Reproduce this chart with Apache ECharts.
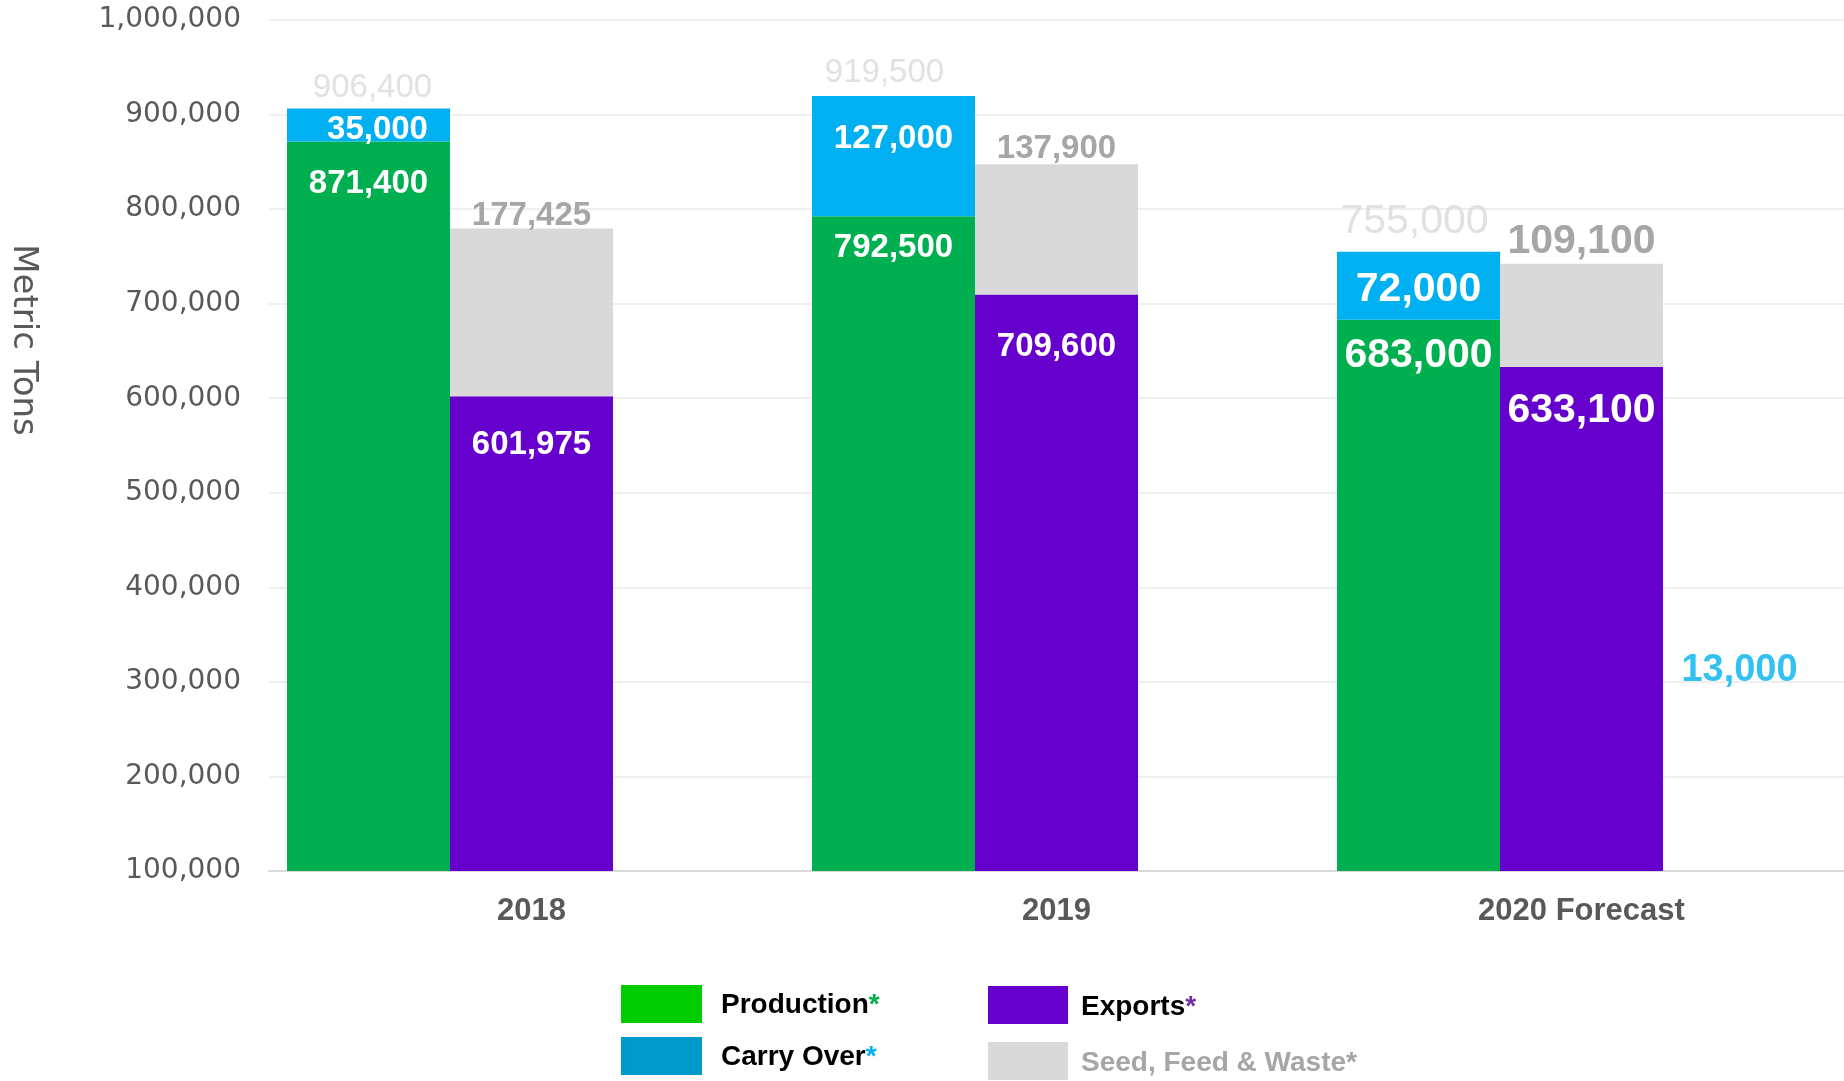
<!DOCTYPE html>
<html lang="en">
  <head>
    <meta charset="UTF-8" />
    <title>Supply and Use (Metric Tons)</title>
    <script src="https://cdn.jsdelivr.net/npm/echarts@6/dist/echarts.min.js"></script>
    <style>
      html, body { margin: 0; padding: 0; background: #fff; }
      #chart { width: 1844px; height: 1081px; }
    </style>
  </head>
  <body>
    <div id="chart"></div>
    <script>
      // values
      const categories = ["2018", "2019", "2020 Forecast"];
      const production = [871400, 792500, 683000];
      const carryOver = [35000, 127000, 72000];
      const exportsData = [601975, 709600, 633100];
      const seedFeedWaste = [177425, 137900, 109100];
      const supplyTotals = [906400, 919500, 755000];
      const carryOut = [null, null, 13000];

      const yMin = 100000;
      const yMax = 1000000;
      const yStep = 100000;

      const COLORS = {
        production: "#00b050",
        carryOver: "#00b0f0",
        exports: "#6600cc",
        sfw: "#d9d9d9",
        sfwText: "#a6a6a6",
        totalText: "#d9d9d9",
        axisText: "#595959",
      };

      const BAR_W = 163;
      const LABEL_SIZE = [33, 33, 41];
      const FONT = "Liberation Sans, Arial, sans-serif";
      const CARRY_OUT_LABEL_Y = 315000;

      const fmt = (v) => Number(v).toLocaleString("en-US");

      // per-bar label tweaks (placement relative to the bar)
      const items = (values, opts) =>
        values.map((v, i) => ({
          value: v,
          label: {
            fontSize: LABEL_SIZE[i],
            position: opts.position[i],
            distance: opts.distance[i],
            offset: opts.offset ? opts.offset[i] : [0, 0],
          },
        }));

      const whiteLabel = {
        show: true,
        color: "#fff",
        fontWeight: "bold",
        fontFamily: FONT,
        textBorderWidth: 0,
        formatter: (p) => fmt(p.value),
      };

      const option = {
        animation: false,
        backgroundColor: "#fff",
        grid: { left: 269, right: 0, top: 20, bottom: 210 },
        xAxis: {
          type: "category",
          data: categories,
          axisLine: { lineStyle: { color: "#d9d9d9", width: 2 } },
          axisTick: { show: false },
          axisLabel: {
            color: COLORS.axisText,
            fontSize: 31,
            fontWeight: "bold",
            fontFamily: FONT,
            margin: 25,
          },
        },
        yAxis: {
          type: "value",
          min: yMin,
          max: yMax,
          interval: yStep,
          axisLine: { show: false },
          axisTick: { show: false },
          splitLine: { lineStyle: { color: "#efefef", width: 2 } },
          axisLabel: {
            color: COLORS.axisText,
            fontSize: 28,
            fontFamily: "DejaVu Sans, sans-serif",
            margin: 28,
            padding: [12, 0, 0, 0],
            formatter: (v) => fmt(v),
          },
        },
        legend: [
          {
            orient: "vertical",
            left: 621,
            top: 985,
            padding: 0,
            itemWidth: 81,
            itemHeight: 38,
            itemGap: 14,
            icon: "rect",
            selectedMode: false,
            data: [
              { name: "Production", itemStyle: { color: "#00cc00" } },
              { name: "Carry Over", itemStyle: { color: "#0099cc" } },
            ],
            formatter: (n) => (n === "Production" ? n + "{sg|*}" : n + "{sb|*}"),
            textStyle: {
              color: "#000",
              fontSize: 28,
              fontWeight: "bold",
              fontFamily: FONT,
              padding: [3, 0, 0, 14],
              rich: {
                sg: { color: "#00b050", fontSize: 28, fontWeight: "bold", fontFamily: FONT },
                sb: { color: "#00b0f0", fontSize: 28, fontWeight: "bold", fontFamily: FONT },
              },
            },
          },
          {
            orient: "vertical",
            left: 988,
            top: 986,
            padding: 0,
            itemWidth: 80,
            itemHeight: 38,
            itemGap: 18,
            icon: "rect",
            selectedMode: false,
            data: [
              { name: "Exports", itemStyle: { color: "#6600cc" } },
              {
                name: "Seed, Feed & Waste",
                itemStyle: { color: "#d9d9d9" },
                textStyle: { color: COLORS.sfwText },
              },
            ],
            formatter: (n) => (n === "Exports" ? n + "{sp|*}" : n + "{sx|*}"),
            textStyle: {
              color: "#000",
              fontSize: 28,
              fontWeight: "bold",
              fontFamily: FONT,
              padding: [4, 0, 0, 8],
              rich: {
                sp: { color: "#7030a0", fontSize: 28, fontWeight: "bold", fontFamily: FONT },
                sx: { color: COLORS.sfwText, fontSize: 28, fontWeight: "bold", fontFamily: FONT },
              },
            },
          },
        ],
        graphic: [
          {
            type: "text",
            x: 23,
            y: 340,
            rotation: -Math.PI / 2,
            style: {
              text: "Metric Tons",
              fill: COLORS.axisText,
              font: "34px DejaVu Sans, sans-serif",
              align: "center",
              verticalAlign: "middle",
            },
          },
        ],
        series: [
          {
            name: "Production",
            type: "bar",
            stack: "supply",
            barWidth: BAR_W,
            barGap: "0%",
            itemStyle: { color: COLORS.production },
            label: whiteLabel,
            data: items(production, {
              position: ["insideTop", "insideTop", "insideTop"],
              distance: [26, 15, 15],
            }),
          },
          {
            name: "Carry Over",
            type: "bar",
            stack: "supply",
            barWidth: BAR_W,
            barGap: "0%",
            itemStyle: { color: COLORS.carryOver },
            label: whiteLabel,
            data: items(carryOver, {
              position: ["inside", "insideTop", "inside"],
              distance: [5, 26, 5],
              offset: [[9, 5], [0, 0], [0, 4]],
            }),
          },
          {
            name: "Exports",
            type: "bar",
            stack: "use",
            barWidth: BAR_W,
            barGap: "0%",
            itemStyle: { color: COLORS.exports },
            label: whiteLabel,
            data: items(exportsData, {
              position: ["insideTop", "insideTop", "insideTop"],
              distance: [32, 36, 23],
            }),
          },
          {
            name: "Seed, Feed & Waste",
            type: "bar",
            stack: "use",
            barWidth: BAR_W,
            barGap: "0%",
            itemStyle: { color: COLORS.sfw },
            label: {
              show: true,
              color: COLORS.sfwText,
              fontWeight: "bold",
              fontFamily: FONT,
              formatter: (p) => fmt(p.value),
            },
            data: items(seedFeedWaste, {
              position: ["top", "top", "top"],
              distance: [-4, -1, 2],
            }),
          },
          {
            // third slot next to each pair (empty)
            name: "spacer",
            type: "bar",
            stack: "spacer",
            barWidth: BAR_W,
            barGap: "0%",
            data: [],
          },
          {
            name: "Total supply",
            type: "scatter",
            symbolSize: 1,
            itemStyle: { color: "rgba(0,0,0,0)" },
            silent: true,
            label: {
              show: true,
              position: "top",
              color: COLORS.totalText,
              fontFamily: FONT,
              formatter: (p) => fmt(p.value[1]),
            },
            data: supplyTotals.map((v, i) => ({
              value: [i, v],
              label: { fontSize: LABEL_SIZE[i], offset: [[-BAR_W + 4, 1], [-BAR_W - 9, -1], [-BAR_W - 4, -4]][i] },
            })),
          },
          {
            name: "Carry out",
            type: "scatter",
            symbolSize: 1,
            itemStyle: { color: "rgba(0,0,0,0)" },
            silent: true,
            label: {
              show: true,
              position: "inside",
              color: COLORS.carryOver,
              fontWeight: "bold",
              fontFamily: FONT,
              fontSize: 38,
              offset: [BAR_W - 5, 3],
              formatter: (p) => fmt(p.value[2]),
            },
            data: carryOut
              .map((v, i) => (v == null ? null : [i, CARRY_OUT_LABEL_Y, v]))
              .filter((d) => d),
          },
        ],
      };

      const chart = echarts.init(document.getElementById("chart"));
      chart.setOption(option);
    </script>
  </body>
</html>
